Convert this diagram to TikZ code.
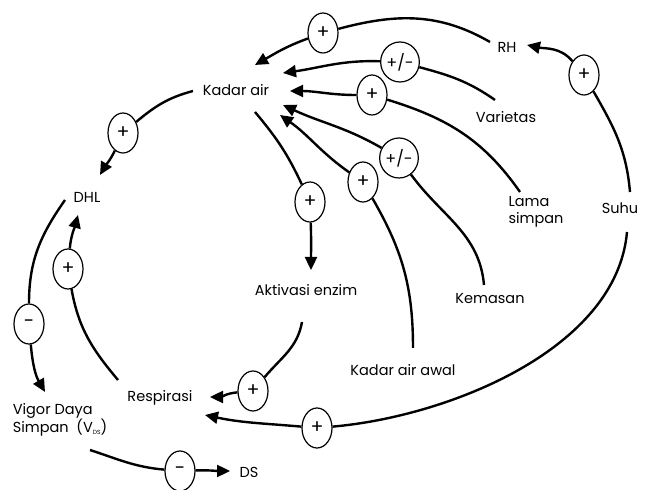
\documentclass[tikz,border=0pt]{standalone}
\usepackage{fontspec}
\setmainfont{Poppins}
\usetikzlibrary{arrows.meta,shapes.geometric}

\tikzset{
  factor/.style={inner sep=2pt, align=left, font=\fontsize{14.5}{17}\selectfont},
  sign/.style={draw, ellipse, line width=1.2pt, fill=white, minimum width=30pt,
    minimum height=40pt, inner sep=0pt, font=\fontsize{19}{19}\selectfont},
  tail/.style={line width=2.4pt},
  link/.style={tail, -{Triangle[length=13pt,width=12pt]}},
}

\begin{document}
\begin{tikzpicture}[x=1pt,y=1pt]
  \useasboundingbox (0,0) rectangle (646,490);

  % factors
  \node[factor] (kadar) at (236,400) {Kadar air};
  \node[factor] (rh) at (507,443) {RH};
  \node[factor] (varietas) at (506,373) {Varietas};
  \node[factor] (lama) at (536,278) {Lama\\simpan};
  \node[factor] (suhu) at (620,282) {Suhu};
  \node[factor] (kemasan) at (490,191) {Kemasan};
  \node[factor] (awal) at (403,120) {Kadar air awal};
  \node[factor] (aktivasi) at (306,200) {Aktivasi enzim};
  \node[factor] (dhl) at (87,293) {DHL};
  \node[factor] (respirasi) at (160,92) {Respirasi};
  \node[factor] (vigor) at (60,70) {Vigor Daya\\Simpan~~(V{\fontsize{6}{6}\selectfont\raisebox{-1.5pt}{DS}})};
  \node[factor] (ds) at (249,18) {DS};

  % signs on the links
  \foreach \i/\x/\y/\t in {1/123/357/+, 2/323/457/+, 3/400/428/{\fontsize{16}{16}\selectfont+/-},
    4/372/395/+, 5/584/415/+, 6/310/288/+, 7/399/332/{\fontsize{16}{16}\selectfont+/-}, 8/363/308/+,
    9/68/221/+, 10/29/166/-, 11/253/99/+, 12/317/62/+, 13/180/19/-}{
    \node[sign] (s\i) at (\x,\y) {\t};
  }

  % Kadar air -> DHL
  \draw[tail] ([shift={(-43,-1)}]kadar.center) to[out=195,in=40] (s1);
  \draw[link] (s1) to[out=-115,in=60] ([shift={(13,22)}]dhl.center);

  % RH -> Kadar air
  \draw[tail] ([shift={(-17,5)}]rh.center) to[out=150,in=15] (s2);
  \draw[link] (s2) to[out=200,in=30] ([shift={(19,25)}]kadar.center);

  % Varietas -> Kadar air
  \draw[tail] ([shift={(-11,17)}]varietas.center) to[out=145,in=-15] (s3);
  \draw[link] (s3) to[out=178,in=8] ([shift={(47,17)}]kadar.center);

  % Lama simpan -> Kadar air
  \draw[tail] ([shift={(-16,20)}]lama.center) to[out=125,in=-17] (s4);
  \draw[link] (s4) to[out=180,in=0] ([shift={(54,-1)}]kadar.center);

  % Suhu -> RH
  \draw[tail] ([shift={(10,16)}]suhu.center) to[out=95,in=-60] (s5);
  \draw[link] (s5) to[out=130,in=-12] ([shift={(20,2)}]rh.center);

  % Kadar air -> Aktivasi enzim
  \draw[tail] ([shift={(19,-22)}]kadar.center) to[out=-50,in=115] (s6);
  \draw[link] (s6) to[out=-88,in=90] ([shift={(5,20)}]aktivasi.center);

  % Kemasan -> Kadar air
  \draw[tail] ([shift={(-6,14)}]kemasan.center) to[out=95,in=-54] (s7);
  \draw[link] (s7) to[out=150,in=-25] ([shift={(47,-15)}]kadar.center);

  % Kadar air awal -> Kadar air
  \draw[tail] ([shift={(10,22)}]awal.center) to[out=90,in=-60] (s8);
  \draw[link] (s8) to[out=145,in=-35] ([shift={(44,-25)}]kadar.center);

  % Suhu -> Respirasi
  \draw[tail] ([shift={(7,-24)}]suhu.center) to[out=-95,in=5,looseness=0.85] (s12);
  \draw[link] (s12) to[out=175,in=-12] ([shift={(45,-17)}]respirasi.center);

  % Aktivasi enzim -> Respirasi
  \draw[tail] ([shift={(-4,-32)}]aktivasi.center) to[out=-100,in=50] (s11);
  \draw[link] (s11) to[out=185,in=0] ([shift={(50,1)}]respirasi.center);

  % Respirasi -> DHL
  \draw[tail] ([shift={(-42,18)}]respirasi.center) to[out=130,in=-80] (s9);
  \draw[link] (s9) to[out=85,in=-105] ([shift={(-9,-18)}]dhl.center);

  % DHL -> Vigor Daya Simpan
  \draw[tail] ([shift={(-22,-3)}]dhl.center) to[out=-125,in=90] (s10);
  \draw[link] (s10) to[out=-85,in=120] ([shift={(-15,28)}]vigor.center);

  % Vigor Daya Simpan -> DS
  \draw[tail] ([shift={(30,-30)}]vigor.center) to[out=-18,in=175] (s13);
  \draw[link] (s13) to[out=2,in=180] ([shift={(-19,1)}]ds.center);
\end{tikzpicture}
\end{document}
